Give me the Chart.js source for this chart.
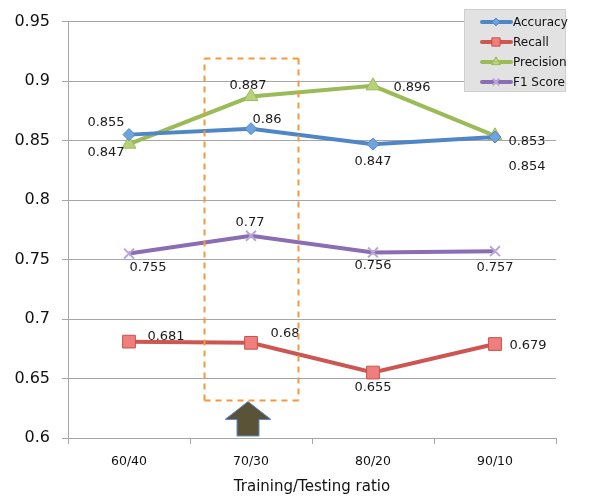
<!DOCTYPE html>
<html>
<head>
<meta charset="utf-8">
<script src="https://cdn.jsdelivr.net/npm/chart.js@4.4.1/dist/chart.umd.min.js"></script>
<style>
  html, body { margin: 0; padding: 0; background: #fff; }
  #wrap { position: relative; width: 591px; height: 500px; }
</style>
</head>
<body>
<div id="wrap"><canvas id="grafico" width="591" height="500"></canvas></div>
<script>
// Datos del gráfico
const categorias = ['60/40', '70/30', '80/20', '90/10'];
const accuracy = [0.855, 0.86, 0.847, 0.853];
const recall = [0.681, 0.68, 0.655, 0.679];
const precision = [0.847, 0.887, 0.896, 0.854];
const f1Score = [0.755, 0.77, 0.756, 0.757];
const nombresSeries = ['Accuracy', 'Recall', 'Precision', 'F1 Score'];
const ejeX = 'Training/Testing ratio';

// Desplazamiento de cada etiqueta respecto a su punto (solo estilo)
const offsetsEtiquetas = [
  [[-23, -12], [16, -9], [0, 17], [32, 5]],
  [[37, -5], [34, -9], [0, 15], [33, 2]],
  [[-23, 8], [-3, -11], [39, 2], [32, 31]],
  [[19, 14], [-1, -13], [0, 13], [0, 16]]
];

const fuente = '"DejaVu Sans", sans-serif';

// Etiquetas de datos junto a cada punto
const pluginEtiquetas = {
  id: 'etiquetas',
  afterDatasetsDraw(chart) {
    const ctx = chart.ctx;
    ctx.save();
    ctx.font = '13px ' + fuente;
    ctx.fillStyle = '#1a1a1a';
    ctx.textAlign = 'center';
    ctx.textBaseline = 'middle';
    chart.data.datasets.forEach((ds, i) => {
      chart.getDatasetMeta(i).data.forEach((p, j) => {
        const [dx, dy] = offsetsEtiquetas[i][j];
        ctx.fillText(String(ds.data[j]), p.x + dx, p.y + dy);
      });
    });
    ctx.restore();
  }
};

// Recuadro punteado y flecha sobre 70/30, y la leyenda
const pluginAnotaciones = {
  id: 'anotaciones',
  afterDraw(chart) {
    const ctx = chart.ctx;
    const x = chart.scales.x, y = chart.scales.y;
    const cx = x.getPixelForValue(1);
    const ancho = (x.getPixelForValue(1) - x.getPixelForValue(0)) * 0.385;
    const arriba = Math.round(y.getPixelForValue(0.919)) + 0.5;
    const abajo = Math.round(y.getPixelForValue(0.632)) + 0.5;
    const izq = Math.round(cx - ancho) + 0.5, der = Math.round(cx + ancho) + 0.5;

    ctx.save();
    ctx.strokeStyle = '#f29a3a';
    ctx.lineWidth = 2;
    ctx.lineCap = 'butt';
    ctx.setLineDash([6, 5]);
    [[izq, arriba, der, arriba], [der, arriba, der, abajo],
     [der, abajo, izq, abajo], [izq, abajo, izq, arriba]].forEach(([a, b, c, d]) => {
      ctx.beginPath();
      ctx.moveTo(a, b);
      ctx.lineTo(c, d);
      ctx.stroke();
    });
    ctx.setLineDash([]);

    // flecha
    const ax = cx - 3;
    const base = y.bottom - 2;
    ctx.beginPath();
    ctx.moveTo(ax, abajo + 1);
    ctx.lineTo(ax + 23, abajo + 19);
    ctx.lineTo(ax + 11, abajo + 19);
    ctx.lineTo(ax + 11, base);
    ctx.lineTo(ax - 11, base);
    ctx.lineTo(ax - 11, abajo + 19);
    ctx.lineTo(ax - 23, abajo + 19);
    ctx.closePath();
    ctx.fillStyle = '#5b5337';
    ctx.fill();
    ctx.strokeStyle = '#5d8dc9';
    ctx.lineWidth = 1;
    ctx.stroke();

    // leyenda
    const lx = 464, ly = 9, lw = 101, lh = 82;
    ctx.fillStyle = '#e2e2e2';
    ctx.fillRect(lx, ly, lw, lh);
    ctx.strokeStyle = '#cfcfcf';
    ctx.strokeRect(lx + 0.5, ly + 0.5, lw, lh);
    ctx.font = '12px ' + fuente;
    ctx.textAlign = 'left';
    ctx.textBaseline = 'middle';
    chart.data.datasets.forEach((ds, i) => {
      const fy = ly + 13 + i * 20;
      ctx.strokeStyle = ds.borderColor;
      ctx.lineWidth = 4;
      ctx.lineCap = 'round';
      ctx.beginPath();
      ctx.moveTo(482, fy);
      ctx.lineTo(511, fy);
      ctx.stroke();
      ctx.lineCap = 'butt';
      ctx.fillStyle = ds.pointBackgroundColor;
      ctx.strokeStyle = ds.pointBorderColor;
      ctx.lineWidth = ds.pointBorderWidth;
      Chart.helpers.drawPoint(ctx, {
        pointStyle: ds.pointStyle,
        radius: ds.pointRadius * 0.65,
        borderWidth: ds.pointBorderWidth
      }, 496, fy);
      ctx.fillStyle = '#111';
      ctx.fillText(ds.label, 513, fy + 1);
    });
    ctx.restore();
  }
};

function serie(nombre, datos, color, relleno, borde, estilo, radio) {
  return {
    label: nombre,
    data: datos,
    borderColor: color,
    borderWidth: 4,
    tension: 0,
    pointStyle: estilo,
    pointRadius: radio,
    pointBackgroundColor: relleno,
    pointBorderColor: borde,
    pointBorderWidth: estilo === 'crossRot' ? 2 : 1
  };
}

new Chart(document.getElementById('grafico'), {
  type: 'line',
  data: {
    labels: categorias,
    datasets: [
      serie(nombresSeries[0], accuracy, '#4f86c6', '#6fa3dd', '#4f86c6', 'rectRot', 6),
      serie(nombresSeries[1], recall, '#cd5552', '#ef7f7c', '#c9504c', 'rect', 9),
      serie(nombresSeries[2], precision, '#9bbb59', '#b8d27a', '#9bbb59', 'triangle', 8),
      serie(nombresSeries[3], f1Score, '#8a6db3', '#b9a6d6', '#b9a6d6', 'crossRot', 7)
    ]
  },
  options: {
    responsive: false,
    animation: false,
    layout: { padding: { top: 19, right: 35, bottom: 0, left: 0 } },
    plugins: { legend: { display: false }, tooltip: { enabled: false } },
    scales: {
      y: {
        min: 0.6,
        max: 0.95,
        afterFit(s) { s.width = 68; },
        ticks: {
          stepSize: 0.05,
          padding: 12,
          color: '#111',
          font: { family: fuente, size: 16 },
          callback: v => String(Number(v.toFixed(2)))
        },
        grid: { color: '#a6a6a6', lineWidth: 1, tickLength: 6 },
        border: { color: '#a6a6a6' }
      },
      x: {
        offset: true,
        afterFit(s) { s.height = 62; },
        ticks: { padding: 10, color: '#111', font: { family: fuente, size: 12.5 } },
        grid: { offset: true, drawOnChartArea: false, color: '#a6a6a6', tickLength: 6 },
        border: { color: '#a6a6a6' },
        title: {
          display: true,
          text: ejeX,
          color: '#111',
          font: { family: fuente, size: 15 },
          padding: { top: 4 }
        }
      }
    }
  },
  plugins: [pluginEtiquetas, pluginAnotaciones]
});
</script>
</body>
</html>
